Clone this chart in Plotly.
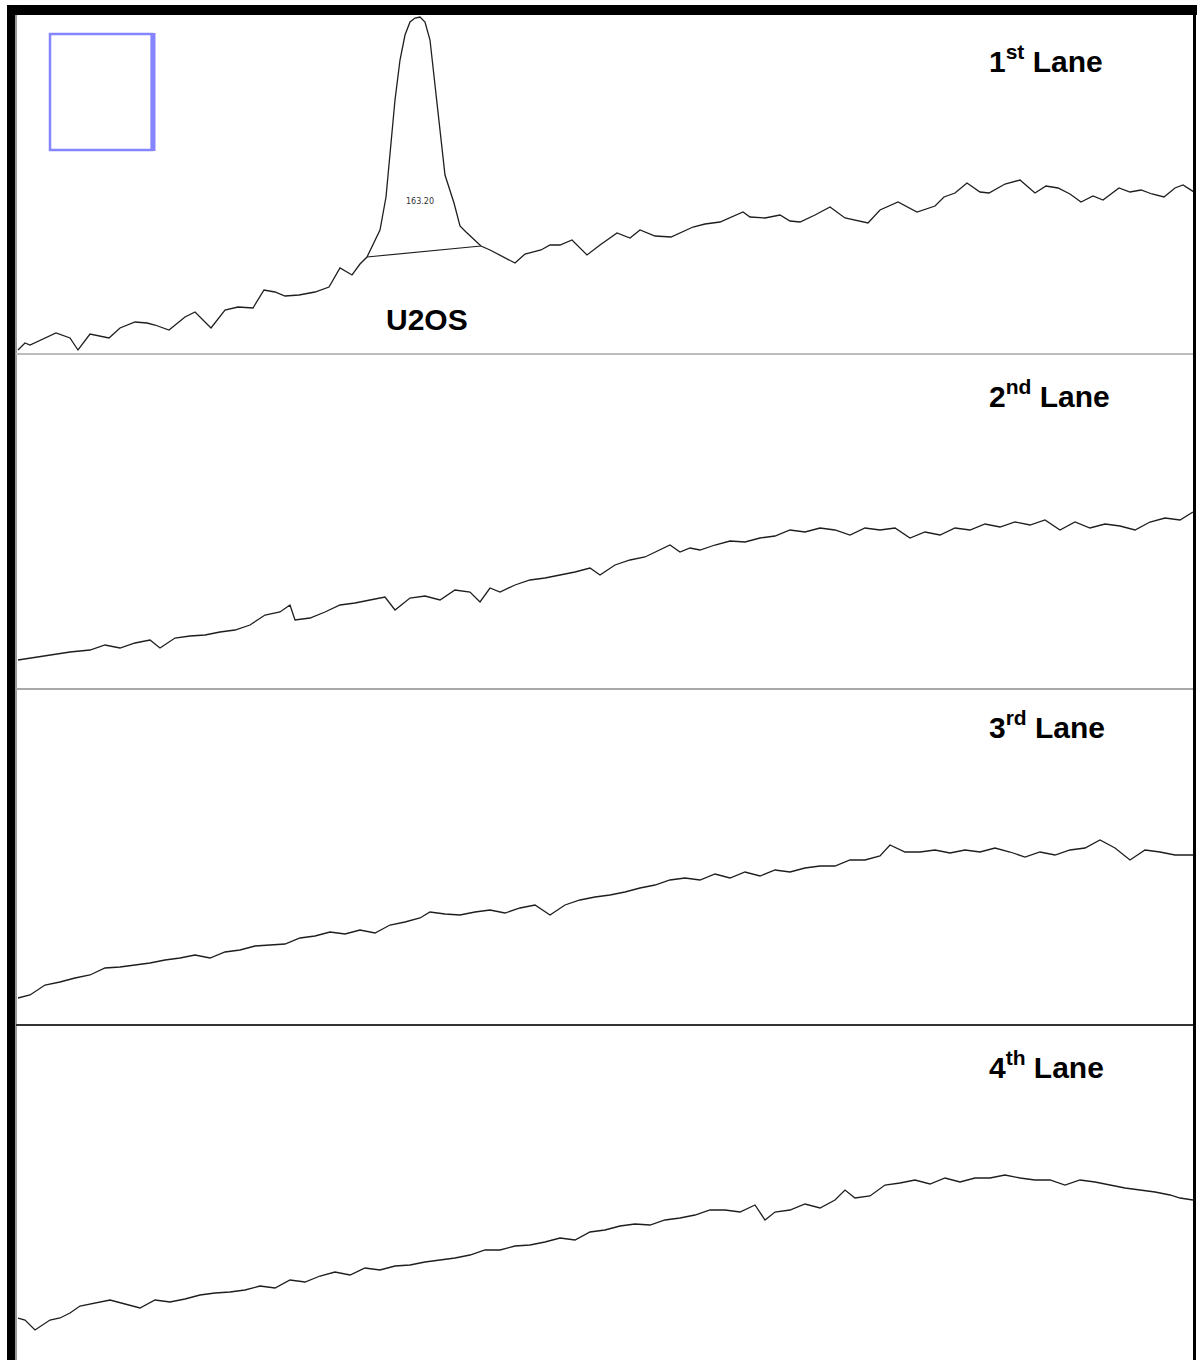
import plotly.graph_objects as go

# Densitometry profiles of four gel lanes (position along lane, intensity)
lane1_pos = [18, 25, 30, 45, 56, 70, 78, 90, 109, 120, 135, 147, 155, 169, 185, 195, 211, 225, 238, 253,
             264, 275, 285, 299, 315, 329, 340, 352, 360, 367, 374, 380, 386, 390, 395, 400, 405, 410, 415, 420,
             425, 430, 437, 440, 445, 454, 460, 466, 472, 481, 490, 496, 505, 515, 525, 541, 550, 560, 572, 587,
             600, 617, 630, 640, 655, 671, 693, 705, 720, 743, 750, 765, 780, 790, 800, 815, 830, 845, 868, 880,
             898, 917, 935, 944, 955, 967, 980, 989, 1005, 1020, 1035, 1046, 1058, 1070, 1081, 1093, 1103, 1119, 1130, 1141,
             1152, 1164, 1175, 1183, 1194]
lane1_val = [4, 11, 9, 16, 21, 16, 4, 20, 16, 26, 32, 31, 29, 24, 37, 42, 26, 44, 47, 46,
             64, 62, 58, 59, 62, 67, 86, 79, 90, 97, 112, 124, 157, 204, 254, 294, 319, 332, 336, 337,
             332, 314, 254, 224, 179, 151, 128, 122, 116, 108, 104, 101, 96, 91, 100, 104, 109, 109, 114, 99,
             109, 121, 116, 124, 118, 117, 127, 130, 132, 142, 137, 136, 139, 133, 132, 139, 147, 136, 131, 144,
             152, 142, 148, 157, 161, 171, 162, 161, 170, 174, 161, 168, 166, 160, 152, 158, 154, 166, 162, 164,
             160, 157, 166, 169, 162]

lane2_pos = [18, 30, 50, 70, 90, 105, 120, 135, 150, 160, 175, 190, 205, 220, 235, 250, 265, 280, 290, 295,
             310, 325, 340, 355, 370, 385, 395, 410, 425, 440, 455, 470, 480, 490, 500, 515, 530, 545, 560, 575,
             590, 600, 615, 630, 645, 660, 670, 680, 690, 700, 715, 730, 745, 760, 775, 790, 805, 820, 835, 850,
             865, 880, 895, 910, 925, 940, 955, 970, 985, 1000, 1015, 1030, 1045, 1060, 1075, 1090, 1105, 1120, 1135, 1150,
             1165, 1180, 1193]
lane2_val = [29, 31, 34, 37, 39, 44, 41, 46, 49, 41, 51, 53, 54, 57, 59, 64, 74, 77, 84, 69,
             71, 77, 84, 86, 89, 92, 79, 91, 93, 89, 99, 97, 87, 101, 97, 104, 109, 111, 114, 117,
             121, 114, 124, 129, 132, 139, 144, 137, 141, 139, 144, 148, 147, 151, 153, 159, 157, 161, 159, 154,
             161, 159, 161, 151, 157, 154, 161, 159, 165, 162, 167, 164, 169, 159, 167, 161, 165, 163, 159, 167,
             171, 169, 177]

lane3_pos = [18, 30, 45, 60, 75, 90, 105, 120, 135, 150, 165, 180, 195, 210, 225, 240, 255, 270, 285, 300,
             315, 330, 345, 360, 375, 390, 405, 420, 430, 445, 460, 475, 490, 505, 520, 535, 550, 565, 580, 595,
             610, 625, 640, 655, 670, 685, 700, 715, 730, 745, 760, 775, 790, 805, 820, 835, 850, 865, 880, 890,
             905, 920, 935, 950, 965, 980, 995, 1010, 1025, 1040, 1055, 1070, 1085, 1100, 1115, 1130, 1145, 1160, 1175, 1193]
lane3_val = [27, 30, 40, 43, 47, 50, 57, 58, 60, 62, 65, 67, 70, 67, 73, 75, 79, 80, 81, 87,
             89, 93, 91, 95, 92, 100, 103, 107, 113, 111, 110, 113, 115, 112, 117, 120, 110, 120, 125, 128,
             130, 133, 137, 140, 145, 147, 145, 151, 147, 153, 149, 155, 153, 157, 159, 159, 165, 165, 169, 180,
             173, 173, 175, 172, 175, 173, 177, 173, 168, 173, 170, 175, 177, 185, 177, 165, 175, 173, 170, 170]

lane4_pos = [18, 25, 35, 50, 60, 70, 80, 95, 110, 125, 140, 155, 170, 185, 200, 215, 230, 245, 260, 275,
             290, 305, 320, 335, 350, 365, 380, 395, 410, 425, 440, 455, 470, 485, 500, 515, 530, 545, 560, 575,
             590, 605, 620, 635, 650, 665, 680, 695, 710, 725, 740, 755, 765, 775, 790, 805, 820, 835, 845, 855,
             870, 885, 900, 915, 930, 945, 960, 975, 990, 1005, 1020, 1035, 1050, 1065, 1080, 1095, 1110, 1125, 1140, 1155,
             1170, 1180, 1193]
lane4_val = [42, 40, 30, 40, 42, 47, 54, 57, 60, 56, 52, 60, 58, 61, 65, 67, 68, 70, 74, 72,
             80, 78, 84, 88, 85, 92, 90, 94, 95, 98, 100, 102, 105, 110, 110, 114, 115, 118, 122, 120,
             128, 130, 134, 136, 135, 140, 142, 145, 150, 150, 148, 155, 140, 148, 150, 156, 152, 160, 170, 162,
             164, 175, 177, 180, 176, 182, 178, 182, 182, 185, 182, 180, 180, 175, 180, 178, 175, 172, 170, 168,
             165, 162, 160]

lane_labels = ["1<sup>st</sup> Lane", "2<sup>nd</sup> Lane", "3<sup>rd</sup> Lane", "4<sup>th</sup> Lane"]

# Integration baseline under the U2OS band, and its area label
peak_base_pos = [367, 481]
peak_base_val = [97, 108]
peak_area_text = "163.20"
peak_name = "U2OS"

W, H = 1197, 1360


def px_x(p):
    return p / W


def px_y(p):
    return 1 - p / H


# vertical extent of each lane panel (top, bottom) in page pixels
panels = [(15, 354), (355, 689), (690, 1025), (1026, 1360)]
y_ranges = [[0, 339], [0, 334], [0, 335], [0, 334]]
label_offsets = [44, 39, 35, 39]
x_dom = [px_x(16), px_x(1193)]

fig = go.Figure()
lanes = [(lane1_pos, lane1_val), (lane2_pos, lane2_val), (lane3_pos, lane3_val), (lane4_pos, lane4_val)]
for i, (pos, val) in enumerate(lanes):
    suffix = "" if i == 0 else str(i + 1)
    fig.add_trace(go.Scatter(x=pos, y=val, mode="lines", xaxis="x" + suffix, yaxis="y" + suffix,
                             line=dict(color="#1e1e1e", width=1.3), showlegend=False, hoverinfo="skip"))
    top, bot = panels[i]
    ax = dict(domain=x_dom, range=[16, 1193], visible=False, showgrid=False, zeroline=False)
    ay = dict(domain=[px_y(bot), px_y(top)], range=y_ranges[i], visible=False, showgrid=False,
              zeroline=False, anchor="x" + suffix)
    if i > 0:
        ax["anchor"] = "y" + suffix
    fig.update_layout(**{"xaxis" + suffix: ax, "yaxis" + suffix: ay})
    fig.add_annotation(x=px_x(987), y=px_y(top + label_offsets[i]), xref="paper", yref="paper",
                       text="<b>" + lane_labels[i] + "</b>", showarrow=False, xanchor="left", yanchor="middle",
                       font=dict(family="Liberation Sans, Arial", size=30, color="black"))

# baseline of the integrated band
fig.add_trace(go.Scatter(x=peak_base_pos, y=peak_base_val, mode="lines", xaxis="x", yaxis="y",
                         line=dict(color="#1e1e1e", width=1.2), showlegend=False, hoverinfo="skip"))
fig.add_annotation(x=420, y=152, xref="x", yref="y", text=peak_area_text, showarrow=False,
                   font=dict(family="DejaVu Sans", size=8, color="#333333"))
fig.add_annotation(x=427, y=34, xref="x", yref="y", text="<b>" + peak_name + "</b>", showarrow=False,
                   font=dict(family="Liberation Sans, Arial", size=30, color="black"))

shapes = []
# frame
shapes.append(dict(type="rect", xref="paper", yref="paper", x0=px_x(7), x1=px_x(15), y0=0, y1=px_y(5),
                   fillcolor="black", line=dict(width=0), layer="above"))
shapes.append(dict(type="rect", xref="paper", yref="paper", x0=px_x(15), x1=px_x(17), y0=0, y1=px_y(15),
                   fillcolor="#9a9a9a", line=dict(width=0), layer="above"))
shapes.append(dict(type="rect", xref="paper", yref="paper", x0=px_x(7), x1=1, y0=px_y(15), y1=px_y(5),
                   fillcolor="black", line=dict(width=0), layer="above"))
shapes.append(dict(type="rect", xref="paper", yref="paper", x0=px_x(1193), x1=px_x(1196), y0=0, y1=px_y(5),
                   fillcolor="black", line=dict(width=0), layer="above"))
# lane separators
for yy, col in [(354, "#bdbdbd"), (689, "#a8a8a8"), (1025, "#333333")]:
    shapes.append(dict(type="line", xref="paper", yref="paper", x0=px_x(16), x1=px_x(1193),
                       y0=px_y(yy), y1=px_y(yy), line=dict(color=col, width=2)))
# selection box
shapes.append(dict(type="rect", xref="paper", yref="paper", x0=px_x(50), x1=px_x(152), y0=px_y(150), y1=px_y(34),
                   line=dict(color="#8585ff", width=2.5), fillcolor="rgba(0,0,0,0)"))
shapes.append(dict(type="line", xref="paper", yref="paper", x0=px_x(153), x1=px_x(153), y0=px_y(151), y1=px_y(33),
                   line=dict(color="#8585ff", width=5)))

fig.update_layout(width=W, height=H, margin=dict(l=0, r=0, t=0, b=0), paper_bgcolor="white",
                  plot_bgcolor="white", shapes=shapes, showlegend=False)

fig.write_html("out.html")
